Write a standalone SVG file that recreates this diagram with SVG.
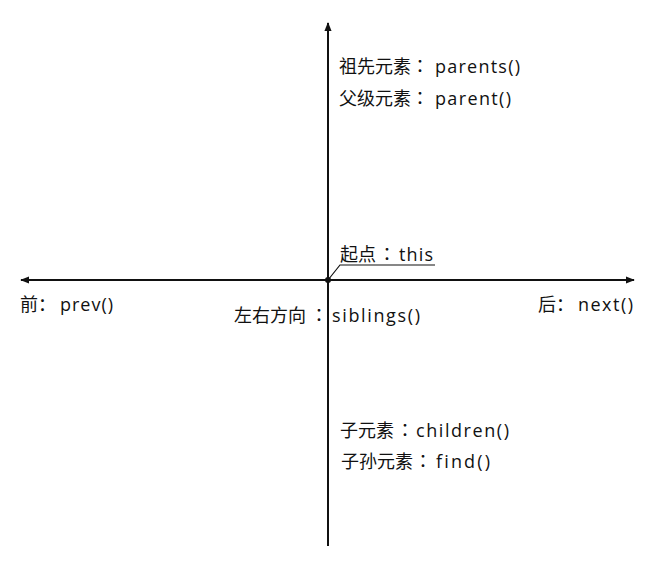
<svg xmlns="http://www.w3.org/2000/svg" width="662" height="568" viewBox="0 0 662 568">
<style>
.t{font-family:"Open Sans","Noto Sans CJK SC",sans-serif;font-size:18px;fill:#111;font-variant-ligatures:none}
.c{font-family:"Noto Sans CJK JP",sans-serif}
.ax{stroke:#111;stroke-width:2;fill:none}
</style>
<defs>
<marker id="ah" viewBox="0 0 10 10" refX="9" refY="5" markerWidth="4.5" markerHeight="4.5" orient="auto-start-reverse">
<path d="M0,1 L10,5 L0,9 Z" fill="#111"/>
</marker>
</defs>
<rect width="662" height="568" fill="#fff"/>
<g id="connectors">
<line class="ax" x1="328" y1="546" x2="328" y2="23" marker-end="url(#ah)"/>
<line class="ax" x1="21" y1="280" x2="634" y2="280" marker-start="url(#ah)" marker-end="url(#ah)"/>
<polyline points="328,280 340,265 435,265" stroke="#111" stroke-width="1.2" fill="none"/>
<circle cx="328" cy="280" r="3" fill="#111"/>
</g>
<g id="parents"><text class="t" y="73"><tspan x="339">祖先元素</tspan><tspan class="c" x="411">：</tspan><tspan x="435" textLength="85">parents()</tspan></text></g>
<g id="parent"><text class="t" y="105"><tspan x="339">父级元素</tspan><tspan class="c" x="411">：</tspan><tspan x="435" textLength="76">parent()</tspan></text></g>
<g id="this"><text class="t" y="261"><tspan x="340">起点</tspan><tspan class="c" x="378">：</tspan><tspan x="399" textLength="34">this</tspan></text></g>
<g id="prev"><text class="t" y="311"><tspan x="20">前</tspan><tspan x="38">：</tspan><tspan x="60" textLength="53">prev()</tspan></text></g>
<g id="siblings"><text class="t" y="322"><tspan x="234">左右方向</tspan><tspan class="c" x="310">：</tspan><tspan x="332" textLength="88">siblings()</tspan></text></g>
<g id="next"><text class="t" y="311"><tspan x="538">后</tspan><tspan x="556">：</tspan><tspan x="578" textLength="55">next()</tspan></text></g>
<g id="children"><text class="t" y="437"><tspan x="340">子元素</tspan><tspan class="c" x="396">：</tspan><tspan x="416" textLength="93">children()</tspan></text></g>
<g id="find"><text class="t" y="468"><tspan x="341">子孙元素</tspan><tspan class="c" x="414">：</tspan><tspan x="436" textLength="54">find()</tspan></text></g>
</svg>
